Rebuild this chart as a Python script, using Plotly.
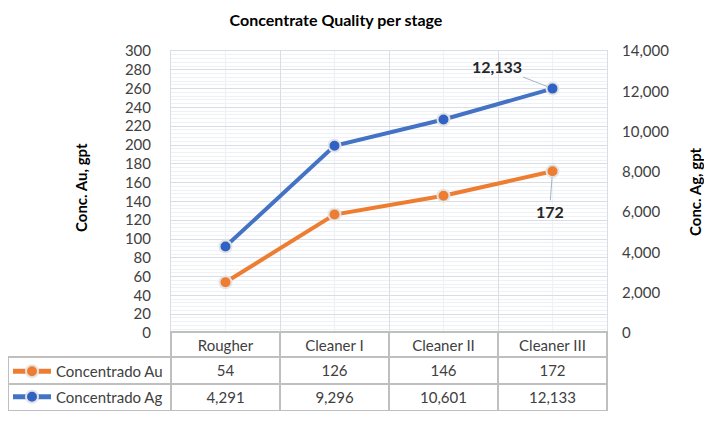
import plotly.graph_objects as go

# ---- data ----
stages = ["Rougher", "Cleaner I", "Cleaner II", "Cleaner III"]
au_values = [54, 126, 146, 172]
ag_values = [4291, 9296, 10601, 12133]
au_name = "Concentrado Au"
ag_name = "Concentrado Ag"
title_text = "Concentrate Quality per stage"
left_title = "Conc. Au, gpt"
right_title = "Conc. Ag, gpt"

# page body adds an 8px margin; design in reference pixels and shift
OFF = 8
W, H = 712 - OFF, 422 - OFF
FONT = "Lato, Calibri, sans-serif"
ORANGE = "#ED7D31"
BLUE = "#4472C4"
GRID = "#D9DEE6"
MINOR = "#EEF1F6"
BORDER = "#BFBFBF"

# plot area in reference pixels
px_l, px_r, px_t, px_b = 171, 607, 51, 333

def fx(p):
    return max(0.0, (p - OFF) / W)

def fy(p):
    return min(1.0, 1 - (p - OFF) / H)

fig = go.Figure()

fig.add_trace(go.Scatter(
    x=stages, y=au_values, name=au_name, mode="lines+markers",
    line=dict(color=ORANGE, width=4),
    marker=dict(size=12, color=ORANGE, line=dict(color="#E4E4E4", width=2)),
    legendgroup="au", yaxis="y", xaxis="x",
))
fig.add_trace(go.Scatter(
    x=stages, y=ag_values, name=ag_name, mode="lines+markers",
    line=dict(color=BLUE, width=4),
    marker=dict(size=12, color="#2F62C4", line=dict(color="#E4E4E4", width=2)),
    legendgroup="ag", yaxis="y2", xaxis="x",
))

# data table below the plot
fig.add_trace(go.Table(
    domain=dict(x=[fx(5), fx(px_r)], y=[fy(412), fy(px_b - 1)]),
    columnwidth=[px_l - 8] + [(px_r - px_l) / 4] * 4,
    header=dict(
        values=[""] + stages,
        height=25,
        align="center",
        font=dict(family=FONT, size=15, color="#404040"),
        fill=dict(color=["rgba(0,0,0,0)"] + ["white"] * 4),
        line=dict(color=["rgba(0,0,0,0)"] + [BORDER] * 4, width=1.2),
    ),
    cells=dict(
        values=[["", ""]] + [[f"{a:,}", f"{g:,}"] for a, g in zip(au_values, ag_values)],
        height=27,
        align="center",
        font=dict(family=FONT, size=15, color="#404040"),
        fill=dict(color="rgba(0,0,0,0)"),
        line=dict(color=BORDER, width=1.2),
    ),
))

# light vertical gridlines at category centres
shapes = [
    dict(type="line", xref="x", yref="y domain", x0=s, x1=s, y0=0, y1=1,
         line=dict(color=MINOR, width=1.2), layer="below")
    for s in stages
]

annotations = [
    dict(text=f"<b>{ag_values[-1]:,}</b>", x=stages[-1], y=ag_values[-1],
         xref="x", yref="y2", showarrow=True, arrowhead=0, arrowwidth=1,
         arrowcolor="#A6B4C8", ax=-56, ay=-22, standoff=6,
         font=dict(family=FONT, size=16, color="#262626")),
    dict(text=f"<b>{au_values[-1]}</b>", x=stages[-1], y=au_values[-1],
         xref="x", yref="y", showarrow=True, arrowhead=0, arrowwidth=1,
         arrowcolor="#A6B4C8", ax=-3, ay=40, standoff=6,
         font=dict(family=FONT, size=16, color="#262626")),
    dict(text=f"<b>{left_title}</b>", x=fx(81), y=fy(188), xref="paper", yref="paper",
         xanchor="center", yanchor="middle",
         showarrow=False, textangle=-90, font=dict(family=FONT, size=15, color="#000000")),
    dict(text=f"<b>{right_title}</b>", x=fx(695), y=fy(192), xref="paper", yref="paper",
         xanchor="center", yanchor="middle",
         showarrow=False, textangle=-90, font=dict(family=FONT, size=15, color="#000000")),
]

fig.update_layout(
    width=W, height=H, autosize=False,
    margin=dict(l=0, r=0, t=0, b=0),
    paper_bgcolor="white", plot_bgcolor="white",
    font=dict(family=FONT, size=15, color="#404040"),
    title=dict(text=f"<b>{title_text}</b>", x=fx(336), y=fy(20), xanchor="center",
               yanchor="middle", font=dict(family=FONT, size=16, color="#000000")),
    xaxis=dict(
        domain=[fx(px_l), fx(px_r)], type="category", showticklabels=False,
        tickson="boundaries", showgrid=True, gridcolor=GRID, gridwidth=1.2,
        showline=True, linecolor=GRID, mirror=True, ticks="", zeroline=False,
        range=[-0.5, 3.5], automargin=False,
    ),
    yaxis=dict(
        domain=[fy(px_b), fy(px_t)], range=[0, 300], dtick=20, tick0=0,
        showgrid=True, gridcolor=GRID, gridwidth=1.2, zeroline=False,
        minor=dict(dtick=4, showgrid=True, gridcolor=MINOR, gridwidth=1),
        showline=True, linecolor=GRID, mirror=True, ticks="",
        ticklabelstandoff=16, automargin=False,
        tickfont=dict(family=FONT, size=15, color="#404040"),
    ),
    yaxis2=dict(
        overlaying="y", side="right", anchor="x", range=[0, 14000], dtick=2000,
        tickformat=",", showgrid=False, zeroline=False, ticks="",
        ticklabelstandoff=14, automargin=False,
        tickfont=dict(family=FONT, size=15, color="#404040"),
    ),
    showlegend=True,
    legend=dict(
        x=fx(8), y=fy(355), xanchor="left", yanchor="top",
        bgcolor="rgba(0,0,0,0)", borderwidth=0, tracegroupgap=3,
        font=dict(family=FONT, size=15, color="#404040"),
        itemwidth=38, itemsizing="constant",
    ),
    shapes=shapes,
    annotations=annotations,
)

fig.write_html("out.html")
